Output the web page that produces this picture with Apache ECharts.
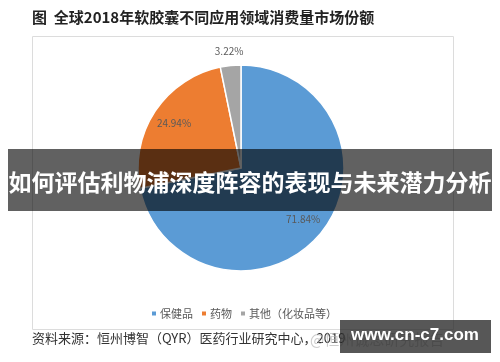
<!DOCTYPE html>
<html>
<head>
<meta charset="utf-8">
<script src="https://cdn.jsdelivr.net/npm/echarts@6/dist/echarts.min.js"></script>
<style>
html,body{margin:0;padding:0;background:#fff;}
#c{width:500px;height:362px;}
</style>
</head>
<body>
<div id="c"></div>
<script>
const categories = ['保健品', '药物', '其他（化妆品等）'];
const shares = [71.84, 24.94, 3.22];
const colors = ['#5B9BD5', '#ED7D31', '#A5A5A5'];
const titleText = '图  全球2018年软胶囊不同应用领域消费量市场份额';
const bannerText = '如何评估利物浦深度阵容的表现与未来潜力分析';
const sourceText = '资料来源：恒州博智（QYR）医药行业研究中心，2019';
const watermarkText = 'www.cn-c7.com';

const CX = 241, CY = 168, R = 103;
const total = shares.reduce((a, b) => a + b, 0);
function midAngle(i) {
  let s = 0;
  for (let k = 0; k < i; k++) s += shares[k];
  return ((s + shares[i] / 2) / total) * 2 * Math.PI;
}

const chart = echarts.init(document.getElementById('c'), null, {renderer: 'canvas'});
chart.setOption({
  animation: false,
  legend: {
    data: categories,
    left: 145,
    top: 303,
    icon: 'rect',
    itemWidth: 6,
    itemHeight: 6,
    itemGap: 7,
    textStyle: {color: '#595959', fontSize: 11, padding: [0, 0, 0, -2], fontFamily: 'Noto Sans CJK SC'}
  },
  series: [{
    type: 'pie',
    center: [CX, CY],
    radius: [0, R],
    startAngle: 90,
    clockwise: true,
    silent: true,
    itemStyle: {borderColor: '#fff', borderWidth: 1.5},
    label: {
      show: true,
      position: 'inside',
      color: '#595959',
      fontSize: 10,
      fontFamily: 'Noto Sans CJK SC',
      formatter: p => p.value.toFixed(2) + '%'
    },
    labelLine: {show: false},
    labelLayout: function (params) {
      const i = params.dataIndex;
      const a = midAngle(i);
      const f = i === 2 ? 1.14 : 0.78;
      return {
        x: CX + R * f * Math.sin(a),
        y: CY - R * f * Math.cos(a),
        align: 'center',
        verticalAlign: 'middle'
      };
    },
    data: categories.map((c, i) => ({name: c, value: shares[i], itemStyle: {color: colors[i]}}))
  }],
  graphic: [
    {type: 'rect', z: -1, shape: {x: 32.5, y: 36.5, width: 421, height: 293}, style: {fill: 'none', stroke: '#dcdcdc', lineWidth: 1}},
    {type: 'text', x: 32, y: 17, style: {text: titleText, font: 'bold 15px "Noto Sans CJK SC"', fill: '#222', textVerticalAlign: 'middle'}},
    {type: 'text', x: 32, y: 338, style: {text: sourceText, font: '13px "Noto Sans CJK SC"', fill: '#333', textVerticalAlign: 'middle'}},
    {type: 'text', z: 50, x: 310, y: 339, style: {text: '@恒州诚思研究报告', font: '15px "Noto Sans CJK SC"', fill: 'rgba(170,170,170,0.6)', textVerticalAlign: 'middle'}},
    {type: 'rect', z: 100, shape: {x: 8, y: 149, width: 484, height: 62}, style: {fill: 'rgba(0,0,0,0.62)'}},
    {type: 'text', z: 101, x: 250, y: 182, style: {text: bannerText, font: 'bold 23px "Noto Sans CJK SC"', fill: '#fff', textAlign: 'center', textVerticalAlign: 'middle'}},
    {type: 'rect', z: 100, shape: {x: 340, y: 320, width: 151, height: 33}, style: {fill: 'rgba(40,40,40,0.78)'}},
    {type: 'text', z: 101, x: 415, y: 335, style: {text: watermarkText, font: 'bold 17px "Liberation Sans"', fill: '#fff', textAlign: 'center', textVerticalAlign: 'middle'}}
  ]
});
</script>
</body>
</html>
